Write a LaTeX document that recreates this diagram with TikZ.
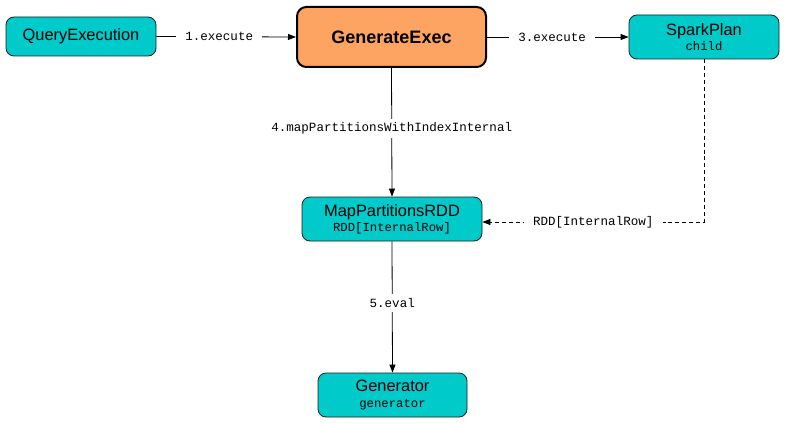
\documentclass[tikz,border=0pt]{standalone}
\usepackage{fontspec}
\setmainfont{Liberation Sans}
\newfontfamily\monof{Liberation Mono}
\usetikzlibrary{arrows.meta}
\definecolor{boxcyan}{RGB}{0,202,202}
\definecolor{boxorange}{RGB}{254,164,98}
\definecolor{boxline}{RGB}{30,30,30}
\begin{document}
\begin{tikzpicture}[x=0.75pt,y=-0.75pt,
  box/.style={draw=boxline,fill=boxcyan,rounded corners=6pt,line width=0.6pt,align=center,inner sep=0pt,font=\fontsize{12.3}{12.5}\selectfont},
  mainbox/.style={draw=black,fill=boxorange,rounded corners=7pt,line width=1.5pt,align=center,inner sep=0pt,font=\fontsize{13.5}{14}\selectfont\bfseries},
  lbl/.style={fill=white,inner xsep=7pt,inner ysep=3pt,font=\monof\fontsize{9.4}{10}\selectfont},
  conn/.style={line width=0.6pt,-{Triangle[length=6pt,width=4.5pt]}},
  dconn/.style={conn,dash pattern=on 3pt off 2.2pt}]
\useasboundingbox (0,0) rectangle (785,424);
\node[box,minimum width=112.5pt,minimum height=29.25pt] (qe) at (81,36.5) {QueryExecution};
\node[mainbox,minimum width=141.75pt,minimum height=45pt] (ge) at (391.5,37) {GenerateExec};
\node[box,minimum width=112.5pt,minimum height=33pt] (sp) at (704,37) {SparkPlan\\[-1pt]{\monof\fontsize{9.2}{10}\selectfont child}};
\node[box,minimum width=135pt,minimum height=33pt] (mp) at (392,219) {MapPartitionsRDD\\[-1pt]{\monof\fontsize{9.2}{10}\selectfont RDD[InternalRow]}};
\node[box,minimum width=111.75pt,minimum height=33pt] (gen) at (392.5,395) {Generator\\[-1pt]{\monof\fontsize{9.2}{10}\selectfont generator}};
\coordinate (corner) at (704,222);
\draw[conn] (qe.east) -- node[lbl,pos=0.45] {1.execute} (ge.west);
\draw[conn] (ge.east) -- node[lbl,pos=0.46] {3.execute} (sp.west);
\draw[conn] (ge.south) -- node[lbl,pos=0.47] {4.mapPartitionsWithIndexInternal} (mp.north);
\draw[conn] (mp.south) -- node[lbl,pos=0.47] {5.eval} (gen.north);
\draw[dconn] (sp.south) -- (corner) -- node[lbl,pos=0.5] {RDD[InternalRow]} (mp.east |- corner);
\end{tikzpicture}
\end{document}
